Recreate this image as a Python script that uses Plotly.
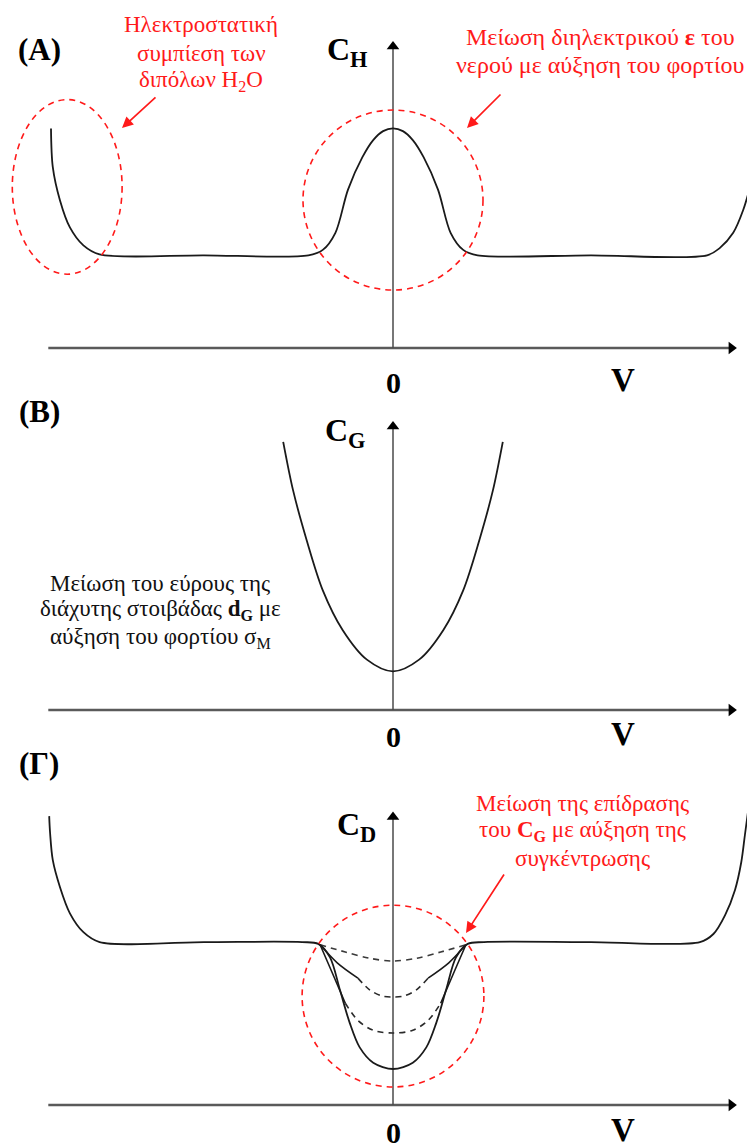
import plotly.graph_objects as go

W, H = 747, 1148
PX = 90      # screen pixels per data unit (same on both axes so circles stay round)
X0 = 393     # pixel column of V = 0

# panel bands: (top px, bottom px, baseline px where C = 0)
BANDS = [(0, 390, 348), (390, 760, 710), (760, 1148, 1105)]

# ---------------- data (V, C in arbitrary units) ----------------
# (A) Helmholtz-layer capacitance C_H
ch_v = [-3.80, -3.78, -3.70, -3.59, -3.44, -3.26, -2.10, -0.94, -0.78, -0.64, -0.50,
        -0.34, -0.22, -0.11, 0.00, 0.11, 0.22, 0.34, 0.50, 0.64, 0.78, 0.94, 2.20, 3.49,
        3.63, 3.78, 3.89, 3.99]
ch_c = [2.44, 2.01, 1.64, 1.34, 1.14, 1.04, 1.03, 1.03, 1.09, 1.28, 1.76,
        2.12, 2.31, 2.41, 2.44, 2.41, 2.31, 2.12, 1.76, 1.28, 1.09, 1.03, 1.03, 1.03,
        1.11, 1.28, 1.53, 1.87]

# (B) diffuse-layer capacitance C_G
cg_v = [-1.22, -1.11, -0.96, -0.78, -0.56, -0.29, 0.00, 0.29, 0.56, 0.78, 0.96, 1.11, 1.22]
cg_c = [2.98, 2.44, 1.89, 1.33, 0.89, 0.56, 0.43, 0.56, 0.89, 1.33, 1.89, 2.44, 2.98]

# (Γ) differential capacitance C_D, most dilute solution
cd_v = [-3.82, -3.81, -3.78, -3.70, -3.59, -3.44, -3.26, -2.10, -1.01, -0.83, -0.70,
        -0.59, -0.48, -0.37, -0.22, 0.00, 0.22, 0.37, 0.48, 0.59, 0.70, 0.83, 1.01,
        2.20, 3.41, 3.56, 3.69, 3.80, 3.87, 3.91, 3.95]
cd_c = [3.21, 3.02, 2.72, 2.42, 2.13, 1.92, 1.81, 1.81, 1.81, 1.79, 1.64,
        1.28, 0.91, 0.64, 0.47, 0.40, 0.47, 0.64, 0.91, 1.28, 1.64, 1.79, 1.81,
        1.81, 1.81, 1.90, 2.11, 2.39, 2.70, 3.00, 3.30]
# (Γ) more concentrated solutions
cd1_v = [-0.81, -0.53, -0.26, 0.00, 0.26, 0.53, 0.81]
cd1_c = [1.78, 1.70, 1.63, 1.60, 1.63, 1.70, 1.78]
cd2_v = [-0.81, -0.62, -0.39, -0.26, -0.12, 0.00, 0.12, 0.26, 0.39, 0.62, 0.81]
cd2_c = [1.78, 1.58, 1.41, 1.28, 1.21, 1.20, 1.21, 1.28, 1.41, 1.58, 1.78]
cd3_v = [-0.81, -0.68, -0.53, -0.39, -0.22, 0.00, 0.22, 0.39, 0.53, 0.68, 0.81]
cd3_c = [1.78, 1.48, 1.13, 0.94, 0.83, 0.80, 0.83, 0.94, 1.13, 1.48, 1.78]

# axis extents in data units
X_AXIS = (-3.83, 3.83)
Y_TIPS = [3.42, 3.22, 3.27]

SERIF = "'Liberation Serif', 'Times New Roman', 'DejaVu Serif', serif"
RED = "#ff1a1a"
INK = "#1a1a1a"

fig = go.Figure()


def ax_names(i):
    return ("x" if i == 0 else f"x{i+1}"), ("y" if i == 0 else f"y{i+1}")


def line(i, xs, ys, color=INK, width=1.8, dash="solid"):
    xa, ya = ax_names(i)
    fig.add_trace(go.Scatter(x=xs, y=ys, mode="lines", xaxis=xa, yaxis=ya,
                             line=dict(color=color, width=width, dash=dash,
                                       shape="spline", smoothing=0.9),
                             hoverinfo="skip", showlegend=False))


# coordinate axes with arrowheads
for i in range(3):
    xa, ya = ax_names(i)
    fig.add_shape(type="line", xref=xa, yref=ya, x0=X_AXIS[0], x1=X_AXIS[1] - 0.05,
                  y0=0, y1=0, line=dict(color="#5a5a5a", width=2.6), layer="below")
    fig.add_shape(type="line", xref=xa, yref=ya, x0=0, x1=0, y0=0, y1=Y_TIPS[i] - 0.05,
                  line=dict(color="#4a4a4a", width=1.5), layer="below")
    fig.add_trace(go.Scatter(x=[X_AXIS[1] - 0.07], y=[0], mode="markers", xaxis=xa, yaxis=ya,
                             marker=dict(symbol="triangle-right", size=11, color="black"),
                             hoverinfo="skip", showlegend=False))
    fig.add_trace(go.Scatter(x=[0], y=[Y_TIPS[i] - 0.07], mode="markers", xaxis=xa, yaxis=ya,
                             marker=dict(symbol="triangle-up", size=11, color="black"),
                             hoverinfo="skip", showlegend=False))

# curves
line(0, ch_v, ch_c)
line(1, cg_v, cg_c)
line(2, cd1_v, cd1_c, color="#3a3a3a", width=1.6, dash="6px,5px")
line(2, cd2_v[2:-2], cd2_c[2:-2], color="#2a2a2a", width=1.6, dash="6px,5px")
line(2, cd2_v[:3], cd2_c[:3], width=1.6)
line(2, cd2_v[-3:], cd2_c[-3:], width=1.6)
line(2, cd3_v[2:-2], cd3_c[2:-2], color="#2a2a2a", width=1.6, dash="6px,5px")
line(2, cd3_v[:3], cd3_c[:3], width=1.6)
line(2, cd3_v[-3:], cd3_c[-3:], width=1.6)
line(2, cd_v, cd_c)

# red dashed highlight regions
red_dash = dict(color=RED, width=1.6, dash="6px,5px")
fig.add_shape(type="circle", xref="x", yref="y", x0=-1.0, x1=1.0, y0=0.644, y1=2.644,
              line=red_dash)
fig.add_shape(type="circle", xref="x", yref="y", x0=-4.23, x1=-3.01, y0=0.82, y1=2.76,
              line=red_dash)
fig.add_shape(type="circle", xref="x3", yref="y3", x0=-1.01, x1=1.01, y0=0.20, y1=2.22,
              line=red_dash)

# axes layout
xr = [-X0 / PX, (W - X0) / PX]
layout_axes = {}
for i, (top, bot, base) in enumerate(BANDS):
    xk = "xaxis" if i == 0 else f"xaxis{i+1}"
    yk = "yaxis" if i == 0 else f"yaxis{i+1}"
    xa, ya = ax_names(i)
    layout_axes[xk] = dict(range=xr, domain=[0, 1], visible=False, anchor=ya, fixedrange=True)
    layout_axes[yk] = dict(range=[(base - bot) / PX, (base - top) / PX],
                           domain=[1 - bot / H, 1 - top / H], visible=False,
                           anchor=xa, fixedrange=True)


def text(px, py, s, size=23, color="black", bold=False):
    font = dict(family=SERIF, size=size, color=color)
    if bold:
        font["weight"] = "bold"
    fig.add_annotation(x=px / W, y=1 - py / H, xref="paper", yref="paper", text=s,
                       showarrow=False, xanchor="center", yanchor="middle", font=font)


def arrow(tail, tip):
    fig.add_annotation(x=tip[0] / W, y=1 - tip[1] / H, xref="paper", yref="paper",
                       ax=tail[0] - tip[0], ay=tail[1] - tip[1], text="",
                       showarrow=True, arrowhead=2, arrowsize=1.3, arrowwidth=1.7,
                       arrowcolor=RED)


# panel letters, axis titles and tick labels
for (lbl, py) in [("(A)", 50), ("(B)", 412), ("(Γ)", 763)]:
    text(39, py, lbl, size=31, bold=True)
text(347, 52, "C<sub>H</sub>", size=32, bold=True)
text(345, 433, "C<sub>G</sub>", size=32, bold=True)
text(356, 826, "C<sub>D</sub>", size=32, bold=True)
for base in (382, 736, 1132):
    text(393, base, "0", size=30, bold=True)
    text(623, base - 2, "V", size=33, bold=True)

# annotations, panel A
for s, py in [("Ηλεκτροστατική", 25), ("συμπίεση των", 53), ("διπόλων H<sub>2</sub>O", 81)]:
    text(201, py, s, color=RED)
text(600, 37, "Μείωση διηλεκτρικού <b>ε</b> του", size=24, color=RED)
text(600, 65, "νερού με αύξηση του φορτίου", size=24, color=RED)
arrow((157, 96), (122, 128))
arrow((502, 93), (467, 128))

# annotation, panel B
for s, py in [("Μείωση του εύρους της", 583),
              ("διάχυτης στοιβάδας <b>d<sub>G</sub></b> με", 610),
              ("αύξηση του φορτίου σ<sub>M</sub>", 638)]:
    text(160, py, s, color="#111111")

# annotation, panel Γ
for s, py in [("Μείωση της επίδρασης", 803),
              ("του <b>C<sub>G</sub></b> με αύξηση της", 831),
              ("συγκέντρωσης", 858)]:
    text(582, py, s, color=RED)
arrow((505, 873), (466, 933))

fig.update_layout(width=W, height=H, margin=dict(l=0, r=0, t=0, b=0),
                  paper_bgcolor="white", plot_bgcolor="white", **layout_axes)

fig.write_html("out.html")
